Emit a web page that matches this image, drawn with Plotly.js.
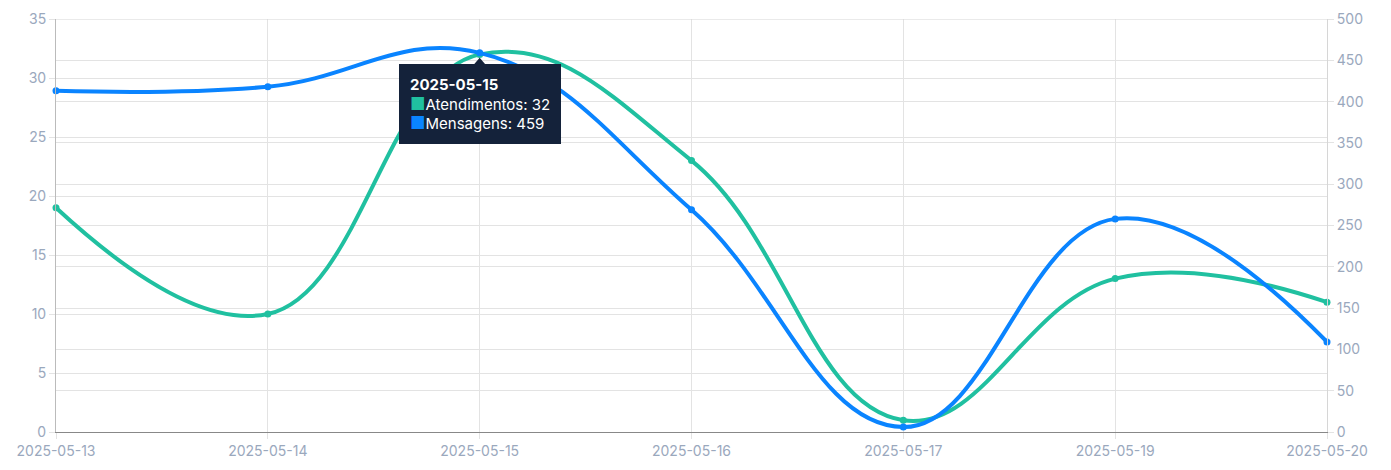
<!DOCTYPE html>
<html>
<head>
<meta charset="utf-8">
<script src="https://cdn.plot.ly/plotly-3.0.1.min.js"></script>
<style>
  html, body { margin: 0; padding: 0; background: #fff; }
  #chart { width: 1391px; height: 470px; }
</style>
</head>
<body>
<div id="chart"></div>
<script>
var dates = ["2025-05-13", "2025-05-14", "2025-05-15", "2025-05-16", "2025-05-17", "2025-05-19", "2025-05-20"]
var atendimentos = [19, 10, 32, 23, 1, 13, 11] // left axis
var mensagens = [413, 418, 459, 269, 6, 258, 109] // right axis
var leftTicks = [0, 5, 10, 15, 20, 25, 30, 35]
var rightTicks = [0, 50, 100, 150, 200, 250, 300, 350, 400, 450, 500]

var hoverDate = "2025-05-15"
var hi = dates.indexOf(hoverDate)

var green = "#20c0a0"
var blue = "#0a84ff"
var tickColor = "#9aa8bd"
var gridColor = "#e3e3e3"
var tipBg = "#14223a"

var data = [
  {
    type: "scatter",
    mode: "lines+markers",
    name: "Atendimentos",
    x: dates,
    y: atendimentos,
    yaxis: "y",
    line: { color: green, width: 4, shape: "spline", smoothing: 1.2 },
    marker: { color: green, size: 7 },
    cliponaxis: false,
  },
  {
    type: "scatter",
    mode: "lines+markers",
    name: "Mensagens",
    x: dates,
    y: mensagens,
    yaxis: "y2",
    line: { color: blue, width: 4, shape: "spline", smoothing: 1.2 },
    marker: { color: blue, size: 7 },
    cliponaxis: false,
  },
]

var tipText =
  "<b>" + hoverDate + "</b><br>" +
  "<span style='color:" + green + ";font-size:17px'>■</span>Atendimentos: " + atendimentos[hi] + "<br>" +
  "<span style='color:" + blue + ";font-size:17px'>■</span>Mensagens: " + mensagens[hi]

var layout = {
  width: 1391,
  height: 470,
  margin: { t: 19, r: 64, l: 56, b: 38 },
  showlegend: false,
  paper_bgcolor: "#fff",
  plot_bgcolor: "#fff",
  font: { family: "Inter, 'Open Sans', sans-serif", size: 14, color: tickColor },
  xaxis: {
    type: "category",
    range: [0, dates.length - 1],
    showgrid: true,
    gridcolor: gridColor,
    ticks: "outside",
    ticklen: 6,
    tickcolor: gridColor,
    showline: true,
    linecolor: "#888",
    linewidth: 1,
    zeroline: false,
    tickfont: { size: 14, color: tickColor },
  },
  yaxis: {
    range: [0, 35],
    tickvals: leftTicks,
    showgrid: true,
    gridcolor: gridColor,
    ticks: "outside",
    ticklen: 6,
    tickcolor: gridColor,
    showline: true,
    linecolor: "#bbb",
    zeroline: false,
    tickfont: { size: 14, color: tickColor },
  },
  yaxis2: {
    range: [0, 500],
    tickvals: rightTicks,
    overlaying: "y",
    side: "right",
    showgrid: true,
    gridcolor: gridColor,
    ticks: "outside",
    ticklen: 6,
    tickcolor: gridColor,
    showline: true,
    linecolor: "#d6d6d6",
    zeroline: false,
    tickfont: { size: 14, color: tickColor },
  },
  shapes: [
    {
      type: "line",
      xref: "paper", yref: "y",
      x0: 0, x1: 1, y0: 35, y1: 35,
      line: { color: "#d6d6d6", width: 1 },
    },
    {
      type: "path",
      xref: "x", yref: "y2",
      xsizemode: "pixel", ysizemode: "pixel",
      xanchor: hi, yanchor: mensagens[hi],
      path: "M-6,-12 L0,-5 L6,-12 Z",
      fillcolor: tipBg,
      line: { width: 0 },
    },
  ],
  annotations: [
    {
      x: hi, y: mensagens[hi],
      xref: "x", yref: "y2",
      showarrow: false,
      xanchor: "center",
      yanchor: "top",
      yshift: -11,
      align: "left",
      text: tipText,
      bgcolor: tipBg,
      bordercolor: tipBg,
      borderwidth: 1,
      borderpad: 10,
      font: { family: "Inter, 'Open Sans', sans-serif", size: 15, color: "#fff" },
    },
  ],
}

Plotly.newPlot("chart", data, layout, { displayModeBar: false, responsive: false })
</script>
</body>
</html>
